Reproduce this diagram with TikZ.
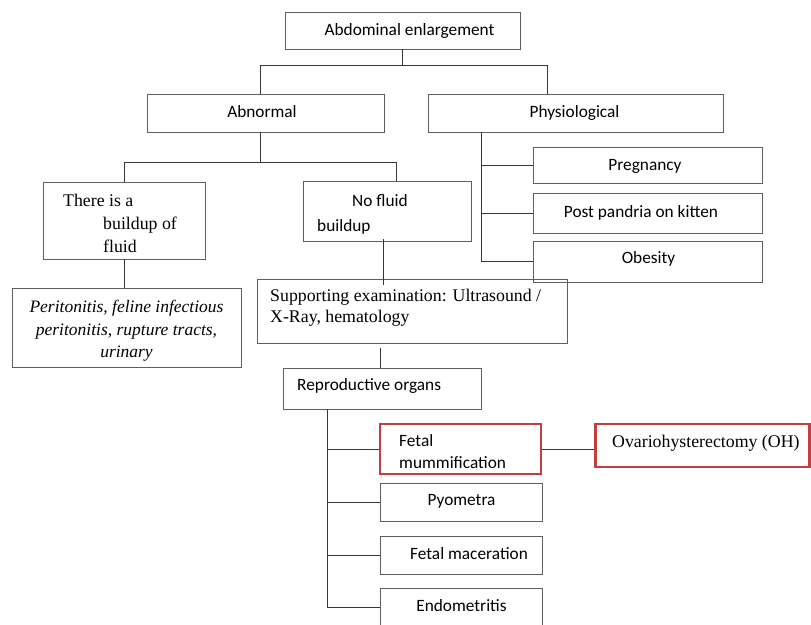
\documentclass[tikz,border=0pt]{standalone}
\usepackage{fontspec}
\setmainfont{Liberation Serif}
\newfontfamily\calibri{Carlito}
\definecolor{boxline}{RGB}{95,95,95}
\definecolor{conline}{RGB}{55,55,55}
\definecolor{redline}{RGB}{196,62,62}
\begin{document}
\begin{tikzpicture}[x=1pt,y=-1pt,
  box/.style={draw=boxline, line width=0.9pt, inner sep=0pt},
  redbox/.style={draw=redline, line width=2.6pt, inner sep=0pt},
  sans/.style={font=\calibri\fontsize{17.3}{21}\selectfont, inner sep=0pt},
  serif/.style={font=\fontsize{17.8}{22}\selectfont, inner sep=0pt},
  serifit/.style={font=\fontsize{17.5}{22}\selectfont\itshape, inner sep=0pt},
  conn/.style={draw=conline, line width=1pt}]
\useasboundingbox (0,0) rectangle (811,624);

% boxes
\node[box, minimum width=235pt, minimum height=37pt] (top) at (402.5,30.5) {};
\node[box, minimum width=237pt, minimum height=38pt] (abn) at (265.5,113) {};
\node[box, minimum width=295pt, minimum height=38pt] (phys) at (575.5,113) {};
\node[box, minimum width=162pt, minimum height=77pt] (there) at (124,220.5) {};
\node[box, minimum width=168pt, minimum height=60pt] (nofl) at (387,211) {};
\node[box, minimum width=229pt, minimum height=36pt] (preg) at (647.5,165) {};
\node[box, minimum width=229pt, minimum height=40pt] (post) at (647.5,213) {};
\node[box, minimum width=229pt, minimum height=41pt] (obes) at (647.5,261.5) {};
\node[box, minimum width=229pt, minimum height=79pt] (perit) at (126.5,327.5) {};
\node[box, minimum width=310pt, minimum height=64pt] (supp) at (412,311) {};
\node[box, minimum width=198pt, minimum height=41pt] (repro) at (382,388.5) {};
\node[redbox, minimum width=161pt, minimum height=50pt] (fetal) at (460.5,449) {};
\node[redbox, minimum width=214pt, minimum height=43pt] (oh) at (702.5,445.5) {};
\node[box, minimum width=162pt, minimum height=38pt] (pyo) at (461,502) {};
\node[box, minimum width=162pt, minimum height=38pt] (mac) at (461,555) {};
\node[box, minimum width=162pt, minimum height=38pt] (endo) at (461,607) {};

% texts
\node[sans, anchor=base] (tTop) at (409.5,35) {Abdominal enlargement};
\node[sans, anchor=base] (tAbn) at (262,117) {Abnormal};
\node[sans, anchor=base] (tPhys) at (574.5,117) {Physiological};
\node[serif, anchor=base west] (tThA) at (63,206) {There is a};
\node[serif, anchor=base west] (tThB) at (103,229) {buildup of};
\node[serif, anchor=base west] (tThC) at (103,252) {fluid};
\node[serifit, anchor=base] (tPerA) at (126.5,312) {Peritonitis, feline infectious};
\node[serifit, anchor=base] (tPerB) at (126.5,335) {peritonitis, rupture tracts,};
\node[serifit, anchor=base] (tPerC) at (126.5,357) {urinary};
\node[sans, anchor=base west] (tNoA) at (352,206) {No fluid};
\node[sans, anchor=base west] (tNoB) at (317,231) {buildup};
\node[sans, anchor=base] (tPreg) at (645,170) {Pregnancy};
\node[sans, anchor=base] (tPost) at (641,217) {Post pandria on kitten};
\node[sans, anchor=base] (tObes) at (648.5,263) {Obesity};
\node[serif, anchor=base west] (tSupA) at (270,301) {Supporting examination: Ultrasound /};
\node[serif, anchor=base west] (tSupB) at (270,322) {X-Ray, hematology};
\node[sans, anchor=base west] (tRepro) at (297,390) {Reproductive organs};
\node[sans, anchor=base west] (tFetA) at (399,446) {Fetal};
\node[sans, anchor=base west] (tFetB) at (399,468) {mummification};
\node[serif, anchor=base west] (tOH) at (612,447) {Ovariohysterectomy (OH)};
\node[sans, anchor=base] (tPyo) at (461.5,505) {Pyometra};
\node[sans, anchor=base] (tMac) at (469,559) {Fetal maceration};
\node[sans, anchor=base] (tEndo) at (461.5,611) {Endometritis};

% connectors
\draw[conn] (top.south) -- ([yshift=-16pt]top.south);
\draw[conn] ([xshift=-5.5pt]abn.north) |- ([yshift=-16pt]top.south) -| ([xshift=-28.5pt]phys.north);
\draw[conn] ([xshift=-5.5pt]abn.south) -- ([xshift=-5.5pt,yshift=-30pt]abn.south);
\draw[conn] (there.north) |- ([xshift=-5.5pt,yshift=-30pt]abn.south) -| ([xshift=9pt]nofl.north);
\draw[conn] ([xshift=-94.5pt]phys.south) |- (obes.west);
\draw[conn] (preg.west) -- ++(-52pt,0);
\draw[conn] (post.west) -- ++(-52pt,0);
\draw[conn] (there.south) -- (there.south |- perit.north);
\draw[conn] ([xshift=-4pt,yshift=2pt]nofl.south) -- ([xshift=-4pt,yshift=-44pt]nofl.south);
\draw[conn] ([xshift=-2pt]repro.north) -- ([xshift=-2pt,yshift=20pt]repro.north);
\draw[conn] ([xshift=45pt]repro.south west) |- (endo.west);
\draw[conn] (fetal.west) -- ++(-52pt,0);
\draw[conn] (pyo.west) -- ++(-52pt,0);
\draw[conn] (mac.west) -- ++(-52pt,0);
\draw[conn] (fetal.east) -- (fetal.east -| oh.west);
\end{tikzpicture}
\end{document}
